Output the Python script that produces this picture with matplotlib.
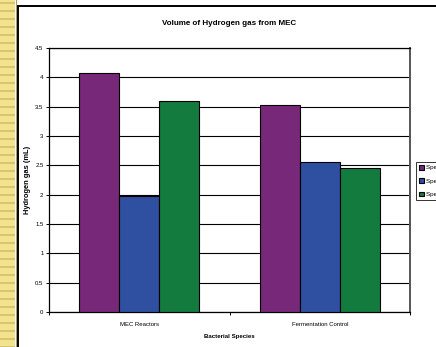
import numpy as np
import matplotlib.pyplot as plt
from matplotlib.patches import Rectangle
from matplotlib.lines import Line2D

plt.rcParams['font.family'] = ['Liberation Sans', 'DejaVu Sans']

categories = ["MEC Reactors", "Fermentation Control"]
series_names = ["Species 1", "Species 2", "Species 3"]
values = [
    [4.07, 3.53],   # Species 1
    [1.97, 2.55],   # Species 2
    [3.59, 2.45],   # Species 3
]
colours = ["#782878", "#2F4FA1", "#137B3D"]
yticks = [0, 0.5, 1, 1.5, 2, 2.5, 3, 3.5, 4, 4.5]

W, H = 436, 347
fig = plt.figure(figsize=(W / 100, H / 100), dpi=100)
fig.patch.set_facecolor("white")

# striped yellow margin on the left
fig.add_artist(Rectangle((0, 0), 15 / W, 1, transform=fig.transFigure,
                         facecolor="#F1E38F", edgecolor="none", zorder=0))
for y in np.arange(2, H, 8):
    fig.add_artist(Rectangle((0, 1 - (y + 2) / H), 15 / W, 2 / H,
                             transform=fig.transFigure,
                             facecolor="#D9C56A", edgecolor="none", zorder=0))
fig.add_artist(Line2D([15.5 / W, 15.5 / W], [0, 1], transform=fig.transFigure,
                      color="#A89A60", lw=0.8))
# chart frame
fig.add_artist(Line2D([17.5 / W, 17.5 / W], [0, 1 - 5.5 / H],
                      transform=fig.transFigure, color="black", lw=1.4))
fig.add_artist(Line2D([17.5 / W, 1], [1 - 5.5 / H, 1 - 5.5 / H],
                      transform=fig.transFigure, color="black", lw=1.4))

ax = fig.add_axes([49 / W, 1 - 312 / H, 361 / W, 264 / H])
x = np.arange(len(categories))
bw = 0.222
for i, (name, vals, c) in enumerate(zip(series_names, values, colours)):
    ax.bar(x + (i - 1) * bw, vals, bw, color=c, edgecolor="black",
           linewidth=0.8, label=name, zorder=3)

ax.set_xlim(-0.5, len(categories) - 0.5)
ax.set_ylim(0, 4.5)
ax.set_yticks(yticks)
ax.set_yticklabels([f"{v:g}" for v in yticks], fontsize=4.3)
ax.yaxis.grid(True, color="black", linewidth=0.8, zorder=0)
ax.set_axisbelow(True)
ax.set_xticks(x)
ax.set_xticklabels(categories, fontsize=4.3)
ax.set_xticks(np.arange(len(categories) + 1) - 0.5, minor=True)
ax.tick_params(axis="x", which="major", length=0, pad=7.5)
ax.tick_params(axis="x", which="minor", length=2.5, width=0.7)
ax.tick_params(axis="y", length=2.5, width=0.7, pad=1.5)
for s in ["left", "bottom", "top"]:
    ax.spines[s].set_color("black")
    ax.spines[s].set_linewidth(0.9)
ax.spines["right"].set_color("#555555")
ax.spines["right"].set_linewidth(1.4)

ax.set_title("Volume of Hydrogen gas from MEC", fontsize=5.8,
             fontweight="bold", pad=16.5)
ax.set_ylabel("Hydrogen gas (mL)", fontsize=5.4, fontweight="bold", labelpad=3)
ax.set_xlabel("Bacterial Species", fontsize=4.4, fontweight="bold", labelpad=5)

# the legend runs past the right edge of the figure
leg = fig.legend(loc="upper left", bbox_to_anchor=(416 / W, 1 - 162 / H),
                 fontsize=4.5, frameon=True, fancybox=False,
                 handlelength=0.7, handleheight=0.7, handletextpad=0.4,
                 labelspacing=1.25, borderpad=0.5, borderaxespad=0)
leg.get_frame().set_edgecolor("black")
leg.get_frame().set_linewidth(0.7)

fig.savefig("out.png", dpi=100)
